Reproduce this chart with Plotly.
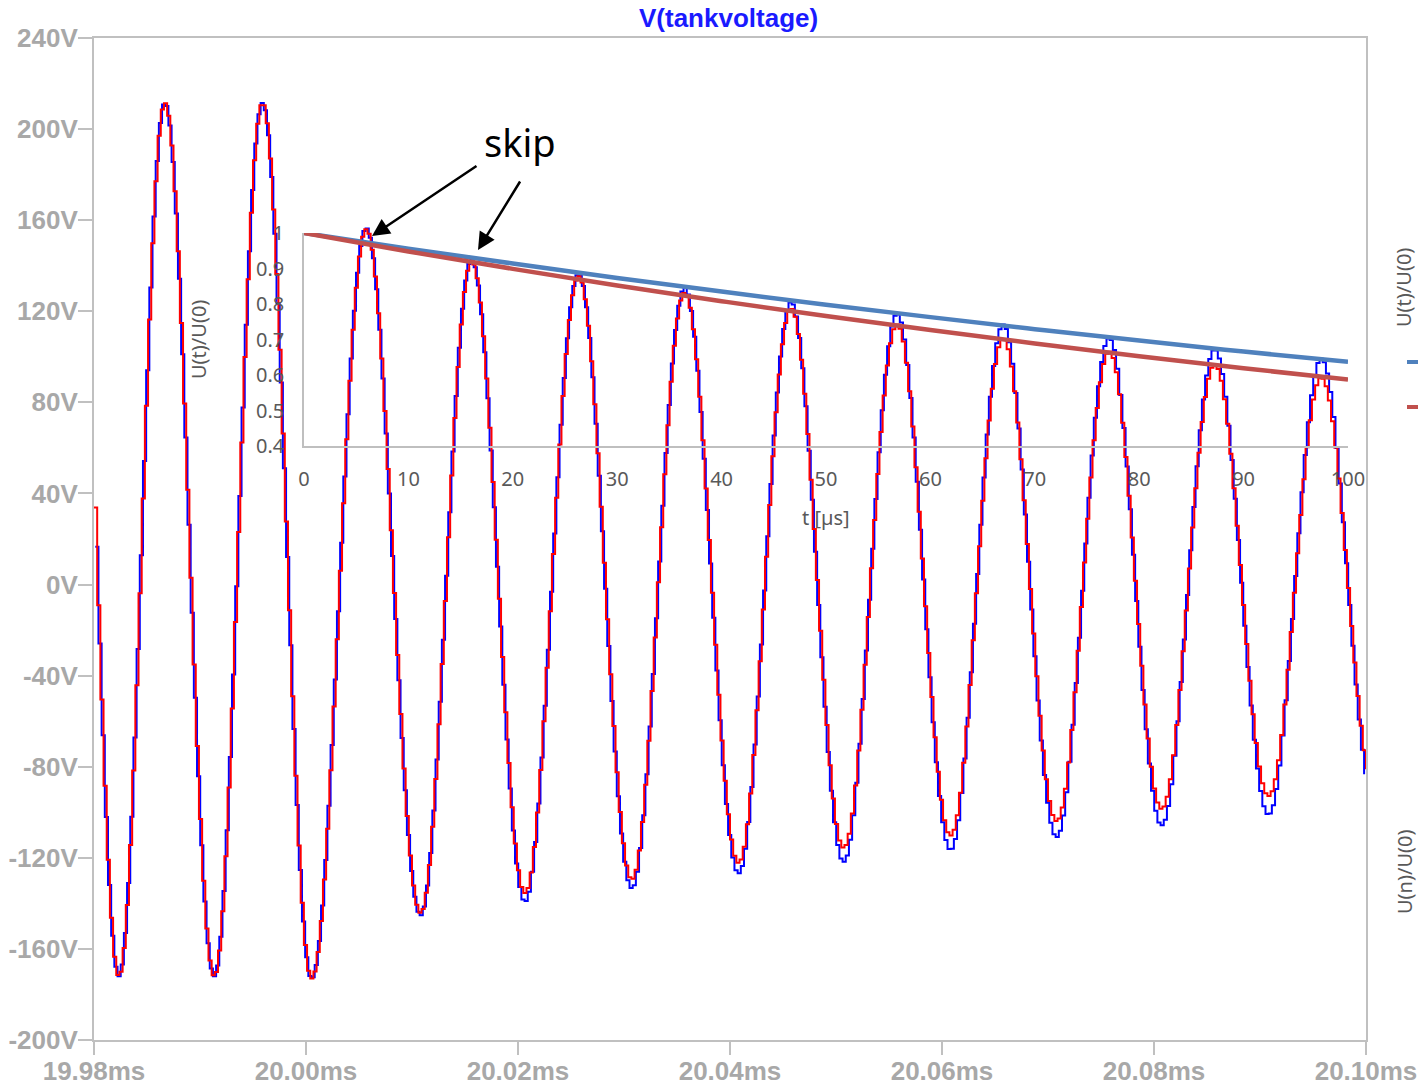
import numpy as np
import plotly.graph_objects as go

W, H = 1418, 1087

# ---------------- data ----------------
# Main LTspice waveform: extrema of V(tankvoltage), time in µs after 19.98 ms, volts
ext_t_us = [-2.0, 2.20, 6.54, 11.20, 15.75, 20.38, 25.53, 30.66, 35.47, 40.51,
            45.57, 50.59, 55.57, 60.66, 65.61, 70.57, 75.61, 80.66, 85.62, 90.66,
            95.62, 100.57, 105.57, 110.66, 115.63, 120.68]
ext_blue_v = [211.0, -172.0, 211.5, -172.0, 211.5, -173.0, 156.6, -145.3, 142.7, -139.3,
              136.4, -133.4, 130.3, -126.9, 124.1, -121.8, 118.9, -116.6, 114.2, -110.9,
              108.3, -105.8, 103.2, -101.1, 99.2, -97.0]
ext_red_v = [211.0, -172.0, 211.5, -172.0, 211.5, -173.0, 156.1, -144.2, 142.0, -135.4,
             135.4, -129.5, 128.2, -122.2, 121.2, -115.6, 114.2, -110.2, 108.0, -103.9,
             102.4, -98.5, 96.6, -92.9, 90.9, -89.0]

x_ticks_ms = [19.98, 20.00, 20.02, 20.04, 20.06, 20.08, 20.10]
x_tick_text = ["19.98ms", "20.00ms", "20.02ms", "20.04ms", "20.06ms", "20.08ms", "20.10ms"]
y_ticks_v = [240, 200, 160, 120, 80, 40, 0, -40, -80, -120, -160, -200]
y_tick_text = ["240V", "200V", "160V", "120V", "80V", "40V", "0V", "-40V", "-80V", "-120V", "-160V", "-200V"]

# Inset (Excel) chart: normalised decay envelopes
inset_t_us = [0, 10, 20, 30, 40, 50, 60, 70, 80, 90, 100]
ut_u0 = [1.000, 0.956, 0.914, 0.873, 0.835, 0.798, 0.763, 0.729, 0.697, 0.666, 0.637]
un_u0 = [1.000, 0.948, 0.899, 0.852, 0.808, 0.766, 0.727, 0.689, 0.653, 0.619, 0.587]
inset_x_ticks = [0, 10, 20, 30, 40, 50, 60, 70, 80, 90, 100]
inset_y_ticks = [0.4, 0.5, 0.6, 0.7, 0.8, 0.9, 1.0]
inset_y_text = ["0.4", "0.5", "0.6", "0.7", "0.8", "0.9", "1"]

T0_MS = 19.98


def staircase(t_ext, v_ext, t_start, t_end, step, shift=0.0):
    """Sample the waveform between the read extrema (half-cosine between
    successive extrema) on the simulator's sample grid, drawn as steps."""
    t_ext = np.asarray(t_ext, float)
    v_ext = np.asarray(v_ext, float)
    ts = np.arange(t_start, t_end + 1e-9, step) + shift
    ts = ts[ts <= t_end]
    idx = np.clip(np.searchsorted(t_ext, ts, side="right") - 1, 0, len(t_ext) - 2)
    ta, tb = t_ext[idx], t_ext[idx + 1]
    va, vb = v_ext[idx], v_ext[idx + 1]
    f = (ts - ta) / (tb - ta)
    v = va + (vb - va) * (1 - np.cos(np.pi * f)) / 2
    return T0_MS + ts / 1000.0, v


def px(x):
    return x / W


def py(y):
    return 1 - y / H


fig = go.Figure()

tb, vb = staircase(ext_t_us, ext_blue_v, 0.0, 120.0, 0.3, shift=0.12)
tr, vr = staircase(ext_t_us, ext_red_v, 0.0, 120.0, 0.3)

fig.add_trace(go.Scatter(x=tb, y=vb, mode="lines", line=dict(color="#0000ff", width=2, shape="hv"),
                         xaxis="x", yaxis="y", showlegend=False, hoverinfo="skip"))
fig.add_trace(go.Scatter(x=tr, y=vr, mode="lines", line=dict(color="#ff0000", width=2, shape="hv"),
                         xaxis="x", yaxis="y", showlegend=False, hoverinfo="skip"))

fig.add_trace(go.Scatter(x=inset_t_us, y=ut_u0, mode="lines", line=dict(color="#4f81bd", width=4.5, shape="spline"),
                         xaxis="x2", yaxis="y2", showlegend=False, hoverinfo="skip"))
fig.add_trace(go.Scatter(x=inset_t_us, y=un_u0, mode="lines", line=dict(color="#c0504d", width=4.5, shape="spline"),
                         xaxis="x2", yaxis="y2", showlegend=False, hoverinfo="skip"))

axis_gray = "#c0c0c0"
lbl_font = dict(family="Liberation Sans, Arial", size=26, color="#a8a8a8", weight="bold")
inset_font = dict(family="Noto Sans, Open Sans", size=20, color="#595959")

fig.update_layout(
    width=W, height=H, autosize=False,
    margin=dict(l=0, r=0, t=0, b=0, autoexpand=False),
    paper_bgcolor="white", plot_bgcolor="rgba(0,0,0,0)",
    xaxis=dict(domain=[px(94), px(1366)], range=[19.98, 20.10], tickvals=x_ticks_ms, ticktext=x_tick_text,
               tickfont=lbl_font, showgrid=False, zeroline=False, showline=True, linecolor=axis_gray,
               linewidth=2, mirror=True, ticks="outside", ticklen=13, tickwidth=2, tickcolor=axis_gray,
               ticklabelstandoff=-6, anchor="y", automargin=False),
    yaxis=dict(domain=[py(1040), py(38)], range=[-200, 240], tickvals=y_ticks_v, ticktext=y_tick_text,
               tickfont=lbl_font, showgrid=False, zeroline=False, showline=True, linecolor=axis_gray,
               linewidth=2, mirror=True, ticks="outside", ticklen=14, tickwidth=2, tickcolor=axis_gray,
               ticklabelstandoff=-5, anchor="x", automargin=False),
    xaxis2=dict(domain=[px(304), px(1348)], range=[0, 100], tickvals=inset_x_ticks, tickfont=inset_font,
                showgrid=False, zeroline=False, showline=True, linecolor="#bfbfbf", linewidth=1.5,
                ticks="", ticklabelstandoff=14, anchor="y2", automargin=False),
    yaxis2=dict(domain=[py(446), py(233)], range=[0.4, 1.0], tickvals=inset_y_ticks, ticktext=inset_y_text,
                tickfont=inset_font, showgrid=False, zeroline=False, showline=True, linecolor="#bfbfbf",
                linewidth=1.5, ticks="", ticklabelstandoff=14, anchor="x2", automargin=False),
)

ann = [
    dict(x=px(728), y=py(18), xref="paper", yref="paper", text="V(tankvoltage)", showarrow=False,
         font=dict(family="Liberation Sans, Arial", size=26, color="#1a1aff", weight="bold"),
         xanchor="center", yanchor="middle"),
    dict(x=px(826), y=py(517), xref="paper", yref="paper", text="t [µs]", showarrow=False,
         font=inset_font, xanchor="center", yanchor="middle"),
    dict(x=px(198), y=py(340), xref="paper", yref="paper", text="U(t)/U(0)", showarrow=False,
         font=inset_font, textangle=-90, xanchor="center", yanchor="middle"),
    dict(x=px(520), y=py(142), xref="paper", yref="paper", text="skip", showarrow=False,
         font=dict(family="Noto Sans, Open Sans", size=38, color="black"), xanchor="center", yanchor="middle"),
    dict(x=px(372), y=py(236), xref="paper", yref="paper", text="", showarrow=True,
         ax=106, ay=-71, arrowhead=2, arrowsize=1.4, arrowwidth=2.5, arrowcolor="black"),
    dict(x=px(478), y=py(250), xref="paper", yref="paper", text="", showarrow=True,
         ax=43, ay=-70, arrowhead=2, arrowsize=1.4, arrowwidth=2.5, arrowcolor="black"),
    dict(x=px(1403), y=py(288), xref="paper", yref="paper", text="U(t)/U(0)", showarrow=False,
         font=inset_font, textangle=-90, xanchor="center", yanchor="middle"),
    dict(x=px(1404), y=py(872), xref="paper", yref="paper", text="U(n)/U(0)", showarrow=False,
         font=inset_font, textangle=-90, xanchor="center", yanchor="middle"),
]
fig.update_layout(annotations=ann)

fig.update_layout(shapes=[
    dict(type="line", xref="paper", yref="paper", x0=px(1407), x1=px(1420), y0=py(362), y1=py(362),
         line=dict(color="#4f81bd", width=4)),
    dict(type="line", xref="paper", yref="paper", x0=px(1407), x1=px(1420), y0=py(407), y1=py(407),
         line=dict(color="#c0504d", width=4)),
])

fig.write_html("out.html", config={"displayModeBar": False},
               post_script="document.body.style.margin='0px';document.body.style.overflow='hidden';")
